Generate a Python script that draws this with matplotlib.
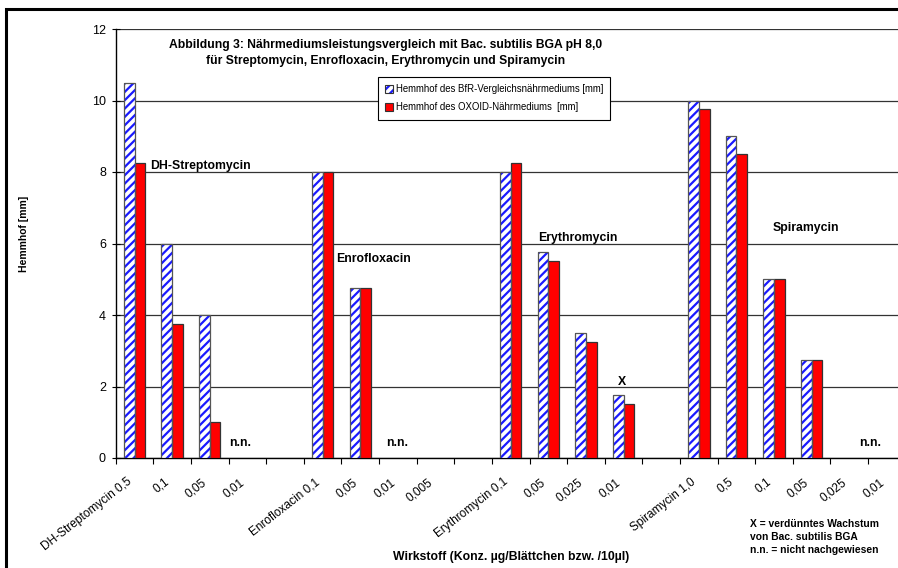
import numpy as np
import matplotlib
matplotlib.use("Agg")
import matplotlib.pyplot as plt
from matplotlib.patches import Rectangle, Patch
from matplotlib.transforms import ScaledTranslation

plt.rcParams['font.family'] = ['Liberation Sans', 'DejaVu Sans']
plt.rcParams['hatch.linewidth'] = 1.6

# Daten
labels = ["DH-Streptomycin 0,5", "0,1", "0,05", "0,01", "",
          "Enrofloxacin 0,1", "0,05", "0,01", "0,005", "",
          "Erythromycin 0,1", "0,05", "0,025", "0,01", "",
          "Spiramycin 1,0", "0,5", "0,1", "0,05", "0,025", "0,01"]
bfr = [10.5, 6.0, 4.0, 0, 0,
       8.0, 4.75, 0, 0, 0,
       8.0, 5.75, 3.5, 1.75, 0,
       10.0, 9.0, 5.0, 2.75, 0, 0]
oxoid = [8.25, 3.75, 1.0, 0, 0,
         8.0, 4.75, 0, 0, 0,
         8.25, 5.5, 3.25, 1.5, 0,
         9.75, 8.5, 5.0, 2.75, 0, 0]
group_names = ["DH-Streptomycin", "Enrofloxacin", "Erythromycin", "Spiramycin"]
group_pos = [(0.41, 8.18), (5.37, 5.56), (10.72, 6.16), (16.95, 6.44)]
nn_pos = [2.8, 6.97, 19.56]

W, H = 898, 568
fig = plt.figure(figsize=(W / 100, H / 100), dpi=100)
ax = fig.add_axes([115.7 / W, 1 - 458 / H, 790 / W, 429 / H])

x = np.arange(len(labels))
b = np.array(bfr, dtype=float)
o = np.array(oxoid, dtype=float)
b[b == 0] = np.nan   # nicht nachgewiesen -> kein Balken
o[o == 0] = np.nan
bw = 0.285
# blaue schraffierte Balken
ax.bar(x - bw / 2, b, bw, color='white', edgecolor='#1a1aff', hatch='////',
       linewidth=0, zorder=3)
ax.bar(x - bw / 2, b, bw, color='none', edgecolor='#555555', linewidth=0.9, zorder=4)
ax.bar(x + bw / 2, o, bw, color='#ff0000', edgecolor='#333333', linewidth=0.9, zorder=3)

ax.set_xlim(-0.5, len(labels) - 0.5)
ax.set_ylim(0, 12)
ax.set_yticks(range(0, 13, 2))
ax.yaxis.grid(True, color='#333333', linewidth=0.9)
ax.set_axisbelow(True)
ax.set_xticks(np.arange(len(labels) + 1) - 0.5)
ax.set_xticklabels([])
ax.tick_params(axis='x', length=4, width=0.8, direction='out')
ax.tick_params(axis='y', length=6, width=0.8, direction='inout', labelsize=9, pad=4)

# schräge Kategorienbeschriftung
lab_tr = ax.get_xaxis_transform() + ScaledTranslation(-8 / 100, -18 / 100, fig.dpi_scale_trans)
for xi, lab in zip(x, labels):
    ax.text(xi, 0, lab, transform=lab_tr, rotation=38, rotation_mode='anchor',
            ha='right', va='top', fontsize=8.6)

for s in ['top', 'right']:
    ax.spines[s].set_visible(False)
ax.spines['left'].set_linewidth(1.0)
ax.spines['bottom'].set_linewidth(1.0)

fig.text(24 / W, 1 - 234 / H, "Hemmhof [mm]", rotation=90, fontsize=7.5,
         fontweight='bold', ha='center', va='center')
fig.text(511 / W, 1 - 557 / H, "Wirkstoff (Konz. µg/Blättchen bzw. /10µl)",
         fontsize=8.8, fontweight='bold', ha='center', va='center')

for name, (gx, gy) in zip(group_names, group_pos):
    ax.text(gx, gy, name, fontsize=8.8, fontweight='bold', va='center', ha='left')
for nx in nn_pos:
    ax.text(nx, 0.43, "n.n.", fontsize=8.8, fontweight='bold', va='center', ha='center')
ax.text(12.97, 2.12, "X", fontsize=8.8, fontweight='bold', va='center', ha='center')

fig.text(386 / W, 1 - 53 / H,
         "Abbildung 3: Nährmediumsleistungsvergleich mit Bac. subtilis BGA pH 8,0\n"
         "für Streptomycin, Enrofloxacin, Erythromycin und Spiramycin",
         ha='center', va='center', fontsize=8.7, fontweight='bold', linespacing=1.45)

fig.text(750 / W, 1 - 537 / H,
         "X = verdünntes Wachstum\nvon Bac. subtilis BGA\nn.n. = nicht nachgewiesen",
         ha='left', va='center', fontsize=7.4, fontweight='bold', linespacing=1.35)

h_bfr = (Patch(facecolor='white', edgecolor='#1a1aff', hatch='////', linewidth=0),
         Patch(facecolor='none', edgecolor='#333333', linewidth=0.8))
h_ox = Patch(facecolor='#ff0000', edgecolor='#333333', linewidth=0.8)
leg = fig.legend([h_bfr, h_ox], ["Hemmhof des BfR-Vergleichsnährmediums [mm]",
                                 "Hemmhof des OXOID-Nährmediums  [mm]"],
                 loc='upper left', bbox_to_anchor=(378 / W, 1 - 77 / H),
                 fontsize=6.9, fancybox=False, shadow=False, framealpha=1,
                 edgecolor='black', handlelength=0.8, handleheight=0.8,
                 handletextpad=0.3, borderpad=0.75, labelspacing=0.85,
                 borderaxespad=0)
leg.get_frame().set_linewidth(0.8)

# Rahmen um das Diagramm
fig.patches.append(Rectangle((6 / W, -0.1), 1.2, 1 - 9 / H + 0.1, transform=fig.transFigure,
                             fill=False, edgecolor='black', linewidth=2.2))

fig.savefig("out.png", dpi=100)
